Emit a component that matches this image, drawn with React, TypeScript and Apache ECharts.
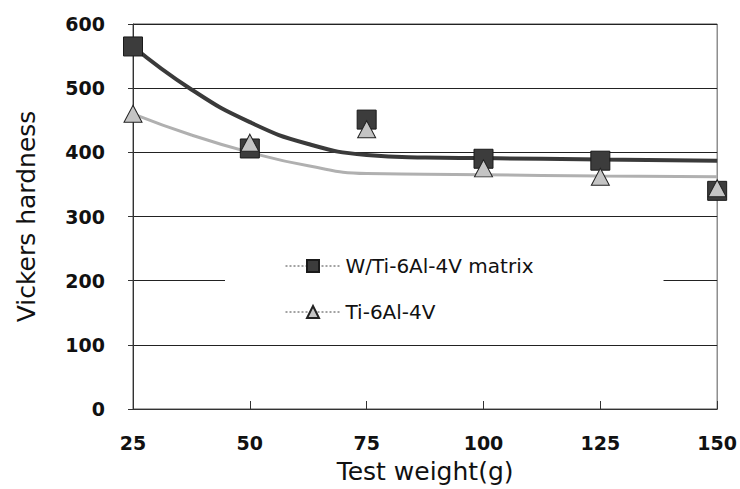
import React, { useEffect, useRef } from "react";
import * as echarts from "echarts";

const weights = [25, 50, 75, 100, 125, 150];
const matrixHardness = [565, 406, 451, 390, 387, 340];
const alloyHardness = [460, 415, 436, 375, 362, 344];

const trendX = [25, 37.5, 50, 62.5, 75, 87.5, 100, 125, 150];
const matrixTrend = [565, 498, 447, 413, 396, 392, 391, 389, 387];
const alloyTrend = [460, 427, 400, 379, 367, 366, 365, 363, 362];

const yTicks = [0, 100, 200, 300, 400, 500, 600];

const FONT = "DejaVu Sans, Liberation Sans, sans-serif";

export default function App() {
  const ref = useRef<HTMLDivElement>(null);
  useEffect(() => {
    if (!ref.current) return;
    const chart = echarts.init(ref.current, undefined, { renderer: "svg" });
    chart.setOption({
      animation: false,
      backgroundColor: "#ffffff",
      grid: { left: 133, right: 20, top: 24, bottom: 77, show: true, borderColor: "#555", borderWidth: 1 },
      xAxis: {
        type: "value",
        min: 25,
        max: 150,
        interval: 25,
        name: "Test weight(g)",
        nameLocation: "middle",
        nameGap: 50,
        nameTextStyle: { fontSize: 25, color: "#111", fontFamily: FONT },
        axisLine: { show: true, lineStyle: { color: "#333", width: 1 } },
        axisTick: { show: true, inside: true, length: 8, lineStyle: { color: "#333" } },
        axisLabel: { fontSize: 19, fontWeight: "bold", color: "#111", margin: 24, fontFamily: FONT },
        splitLine: { show: false },
      },
      yAxis: {
        type: "value",
        min: yTicks[0],
        max: yTicks[yTicks.length - 1],
        interval: 100,
        name: "Vickers hardness",
        nameLocation: "middle",
        nameGap: 94,
        nameTextStyle: { fontSize: 25, color: "#111", fontFamily: FONT },
        axisLine: { show: true, lineStyle: { color: "#333", width: 1 } },
        axisTick: { show: true, length: 5, lineStyle: { color: "#333" } },
        axisLabel: { fontSize: 19, fontWeight: "bold", color: "#111", margin: 28, fontFamily: FONT },
        splitLine: { show: true, lineStyle: { color: "#222", width: 1 } },
      },
      legend: {
        orient: "vertical",
        left: 225,
        top: 242,
        padding: [14, 130, 14, 60],
        itemGap: 26,
        itemWidth: 55,
        itemHeight: 15,
        backgroundColor: "#ffffff",
        textStyle: { fontSize: 20, color: "#111", fontFamily: FONT },
        lineStyle: { color: "#444", width: 1, type: [2, 2], opacity: 1 },
        data: ["W/Ti-6Al-4V matrix", "Ti-6Al-4V"],
      },
      series: [
        {
          name: "matrix trend",
          type: "line",
          data: trendX.map((x, i) => [x, matrixTrend[i]]),
          smooth: true,
          showSymbol: false,
          lineStyle: { color: "#3a3a3a", width: 4 },
          z: 2,
        },
        {
          name: "alloy trend",
          type: "line",
          data: trendX.map((x, i) => [x, alloyTrend[i]]),
          smooth: true,
          showSymbol: false,
          lineStyle: { color: "#b0b0b0", width: 3 },
          z: 2,
        },
        {
          name: "W/Ti-6Al-4V matrix",
          type: "line",
          data: weights.map((x, i) => [x, matrixHardness[i]]),
          symbol: "rect",
          symbolSize: 19,
          lineStyle: { width: 0, opacity: 0 },
          itemStyle: { color: "#3c3c3c", borderColor: "#1a1a1a", borderWidth: 1 },
          clip: false,
          z: 5,
        },
        {
          name: "Ti-6Al-4V",
          type: "line",
          data: weights.map((x, i) => [x, alloyHardness[i]]),
          symbol: "triangle",
          symbolSize: [18, 17],
          lineStyle: { width: 0, opacity: 0 },
          itemStyle: { color: "#c4c4c4", borderColor: "#222", borderWidth: 1 },
          clip: false,
          z: 6,
        },
      ],
    });
    return () => chart.dispose();
  }, []);
  return <div ref={ref} style={{ width: 740, height: 489, position: "absolute", left: 0, top: 0 }} />;
}
